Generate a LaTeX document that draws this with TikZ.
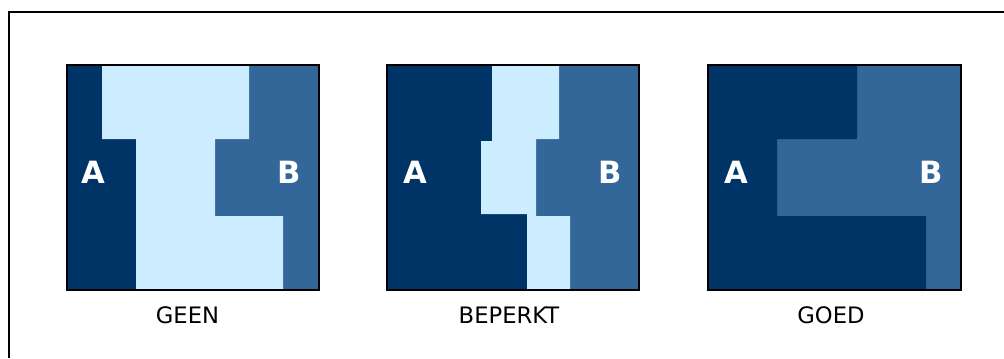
\documentclass[tikz,border=0pt]{standalone}
\usepackage{fontspec}
\setmainfont{DejaVu Sans}
\definecolor{navy}{HTML}{003366}
\definecolor{midblue}{HTML}{336699}
\definecolor{pale}{HTML}{CCECFF}
\begin{document}
\begin{tikzpicture}[x=0.75pt,y=-0.75pt,
  frame/.style={draw=black,line width=1.5pt},
  lab/.style={text=white,font=\bfseries\fontsize{23}{25}\selectfont,inner sep=0pt},
  captext/.style={text=black,font=\fontsize{17}{19}\selectfont,inner sep=0pt}]
\useasboundingbox (0,0) rectangle (1004,358);
\fill[white] (0,0) rectangle (1004,358);
% outer border (only top and left visible)
\draw[line width=1.5pt] (9,358) -- (9,12) -- (1004,12);

% panel 1: GEEN
\fill[midblue] (67,65) rectangle (319,290);
\fill[navy] (67,65) -- (102,65) -- (102,139) -- (136,139) -- (136,290) -- (67,290) -- cycle;
\fill[pale] (102,65) -- (249,65) -- (249,139) -- (215,139) -- (215,216) -- (283,216) -- (283,290) -- (136,290) -- (136,139) -- (102,139) -- cycle;
\draw[frame] (67,65) rectangle (319,290);
\node[lab] (a1) at (93.5,172) {A};
\node[lab] (b1) at (289,172) {B};
\node[captext] (c1) at (187.5,315) {GEEN};

% panel 2: BEPERKT
\fill[midblue] (387,65) rectangle (639,290);
\fill[navy] (387,65) -- (492,65) -- (492,141) -- (481,141) -- (481,214) -- (527,214) -- (527,290) -- (387,290) -- cycle;
\fill[pale] (492,65) -- (559,65) -- (559,139) -- (536,139) -- (536,216) -- (570,216) -- (570,290) -- (527,290) -- (527,214) -- (481,214) -- (481,141) -- (492,141) -- cycle;
\draw[frame] (387,65) rectangle (639,290);
\node[lab] (a2) at (415,172) {A};
\node[lab] (b2) at (610,172) {B};
\node[captext] (c2) at (509,315) {BEPERKT};

% panel 3: GOED
\fill[midblue] (708,65) rectangle (961,290);
\fill[navy] (708,65) -- (857,65) -- (857,139) -- (777,139) -- (777,216) -- (926,216) -- (926,290) -- (708,290) -- cycle;
\draw[frame] (708,65) rectangle (961,290);
\node[lab] (a3) at (736,172) {A};
\node[lab] (b3) at (931,172) {B};
\node[captext] (c3) at (831,315) {GOED};
\end{tikzpicture}
\end{document}
